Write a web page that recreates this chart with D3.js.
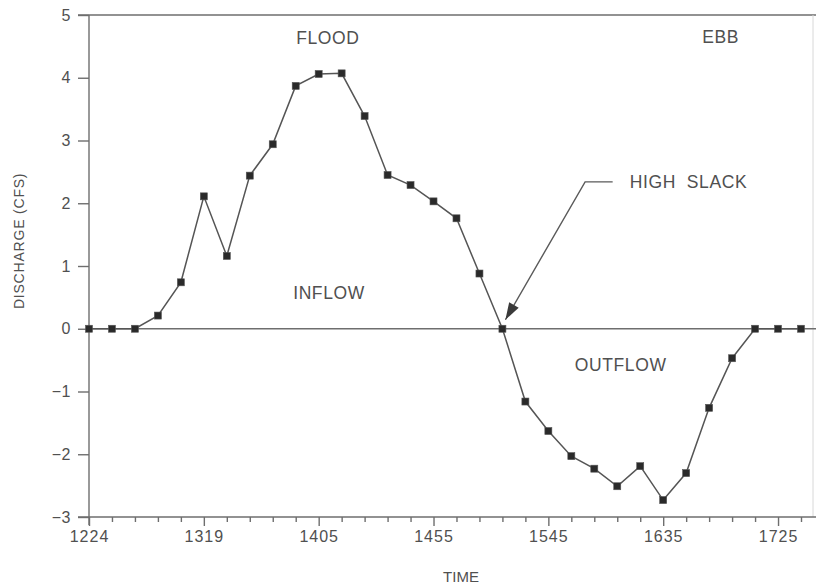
<!DOCTYPE html>
<html>
<head>
<meta charset="utf-8">
<script src="https://cdn.jsdelivr.net/npm/d3@7/dist/d3.min.js"></script>
<style>
  body { margin: 0; background: #fff; }
  svg text { font-family: "Liberation Sans", Arial, sans-serif; fill: #505050; }
</style>
</head>
<body>
<svg id="chart" width="816" height="585"></svg>
<script>
// discharge readings, one every ~10 minutes
const discharge = [
  0, 0, 0, 0.21, 0.74, 2.11, 1.16, 2.44, 2.94, 3.87,
  4.06, 4.07, 3.39, 2.45, 2.29, 2.03, 1.76, 0.88, 0, -1.16,
  -1.63, -2.03, -2.23, -2.51, -2.19, -2.73, -2.30, -1.26, -0.47, 0,
  0, 0
];
const timeTickIdx = [0, 5, 10, 15, 20, 25, 30];
const timeTickLabels = ["1224", "1319", "1405", "1455", "1545", "1635", "1725"];
const yTicks = [-3, -2, -1, 0, 1, 2, 3, 4, 5];

const svg = d3.select("#chart");
const axisColor = "#6e6e6e";

const x = d3.scaleLinear().domain([0, discharge.length - 1]).range([89, 801]);
const y = d3.scaleLinear().domain([-3, 5]).range([517, 15]);

// frame: top line and faint right edge
svg.append("line")
  .attr("x1", 78).attr("x2", 816)
  .attr("y1", y(5)).attr("y2", y(5))
  .attr("stroke", axisColor).attr("stroke-width", 1.4);
svg.append("line")
  .attr("x1", 813).attr("x2", 813)
  .attr("y1", y(5)).attr("y2", y(-3))
  .attr("stroke", "#d8d8d8").attr("stroke-width", 1);

// y axis
const yAxis = d3.axisLeft(y).tickValues(yTicks).tickSize(11).tickPadding(7)
  .tickFormat(d => d < 0 ? "\u2212" + Math.abs(d) : d);
const gy = svg.append("g").attr("transform", "translate(89,0)").call(yAxis);
gy.select(".domain").attr("stroke", axisColor).attr("stroke-width", 1.4)
  .attr("d", `M0,${y(5)}V${y(-3) + 8}`);
gy.selectAll(".tick line").attr("stroke", axisColor).attr("stroke-width", 1.4);
gy.selectAll(".tick text")
  .style("font-size", "16px").style("letter-spacing", "0.5px")
  .attr("fill", "#505050").attr("font-family", null);

// x axis: minor tick at every reading, labels every fifth
const xAxis = d3.axisBottom(x).tickValues(d3.range(discharge.length)).tickSize(5)
  .tickFormat(i => {
    const k = timeTickIdx.indexOf(i);
    return k >= 0 ? timeTickLabels[k] : "";
  });
const gx = svg.append("g").attr("transform", `translate(0,${y(-3)})`).call(xAxis);
gx.select(".domain").attr("stroke", axisColor).attr("stroke-width", 1.4)
  .attr("d", `M78,0H816`);
gx.selectAll(".tick line").attr("stroke", axisColor).attr("stroke-width", 1.4)
  .attr("y2", i => timeTickIdx.includes(i) ? 9 : 5);
gx.selectAll(".tick text")
  .attr("y", 14)
  .style("font-size", "16px").style("letter-spacing", "1px")
  .attr("fill", "#505050").attr("font-family", null);

// zero line
svg.append("line")
  .attr("x1", 89).attr("x2", 816)
  .attr("y1", y(0)).attr("y2", y(0))
  .attr("stroke", axisColor).attr("stroke-width", 1.4);

// discharge line and markers
const line = d3.line().x((d, i) => x(i)).y(d => y(d));
svg.append("path")
  .datum(discharge)
  .attr("d", line)
  .attr("fill", "none")
  .attr("stroke", "#555")
  .attr("stroke-width", 1.5);

svg.selectAll(".pt")
  .data(discharge)
  .enter()
  .append("rect")
  .attr("class", "pt")
  .attr("x", (d, i) => x(i) - 3.5)
  .attr("y", d => y(d) - 3.5)
  .attr("width", 7).attr("height", 7)
  .attr("fill", "#2a2a2a")
  .attr("stroke", "#555").attr("stroke-width", 0.6);

// annotations
const notes = [
  { text: "FLOOD", xi: 10.4, v: 4.54 },
  { text: "EBB", xi: 27.5, v: 4.55 },
  { text: "INFLOW", xi: 10.45, v: 0.47 },
  { text: "OUTFLOW", xi: 23.15, v: -0.67 },
  { text: "HIGH  SLACK", xi: 26.1, v: 2.25 }
];
svg.selectAll(".note")
  .data(notes)
  .enter()
  .append("text")
  .attr("class", "note")
  .attr("x", d => x(d.xi))
  .attr("y", d => y(d.v))
  .attr("text-anchor", "middle")
  .style("font-size", "17.5px")
  .style("letter-spacing", "0.6px")
  .style("white-space", "pre")
  .text(d => d.text);

// leader + arrow to high slack point
const slackIdx = 18;
const elbow = [x(21.6), y(2.34)];
const tip = [x(slackIdx) + 3, y(0) - 9];
svg.append("path")
  .attr("d", `M${x(22.8)},${elbow[1]}H${elbow[0]}L${tip[0]},${tip[1]}`)
  .attr("fill", "none").attr("stroke", "#5a5a5a").attr("stroke-width", 1.4);
const ang = Math.atan2(tip[1] - elbow[1], tip[0] - elbow[0]);
const aLen = 17, aW = 5.5;
const bx = tip[0] - aLen * Math.cos(ang), by = tip[1] - aLen * Math.sin(ang);
svg.append("path")
  .attr("d", `M${tip[0]},${tip[1]}L${bx + aW * Math.sin(ang)},${by - aW * Math.cos(ang)}L${bx - aW * Math.sin(ang)},${by + aW * Math.cos(ang)}Z`)
  .attr("fill", "#3a3a3a");

// axis titles
svg.append("text")
  .attr("transform", `translate(24,${y(1.4)}) rotate(-90)`)
  .attr("text-anchor", "middle")
  .style("font-size", "14px")
  .style("letter-spacing", "0.8px")
  .text("DISCHARGE  (CFS)");
svg.append("text")
  .attr("x", 461).attr("y", 582)
  .attr("text-anchor", "middle")
  .style("font-size", "15px")
  .text("TIME");
</script>
</body>
</html>
